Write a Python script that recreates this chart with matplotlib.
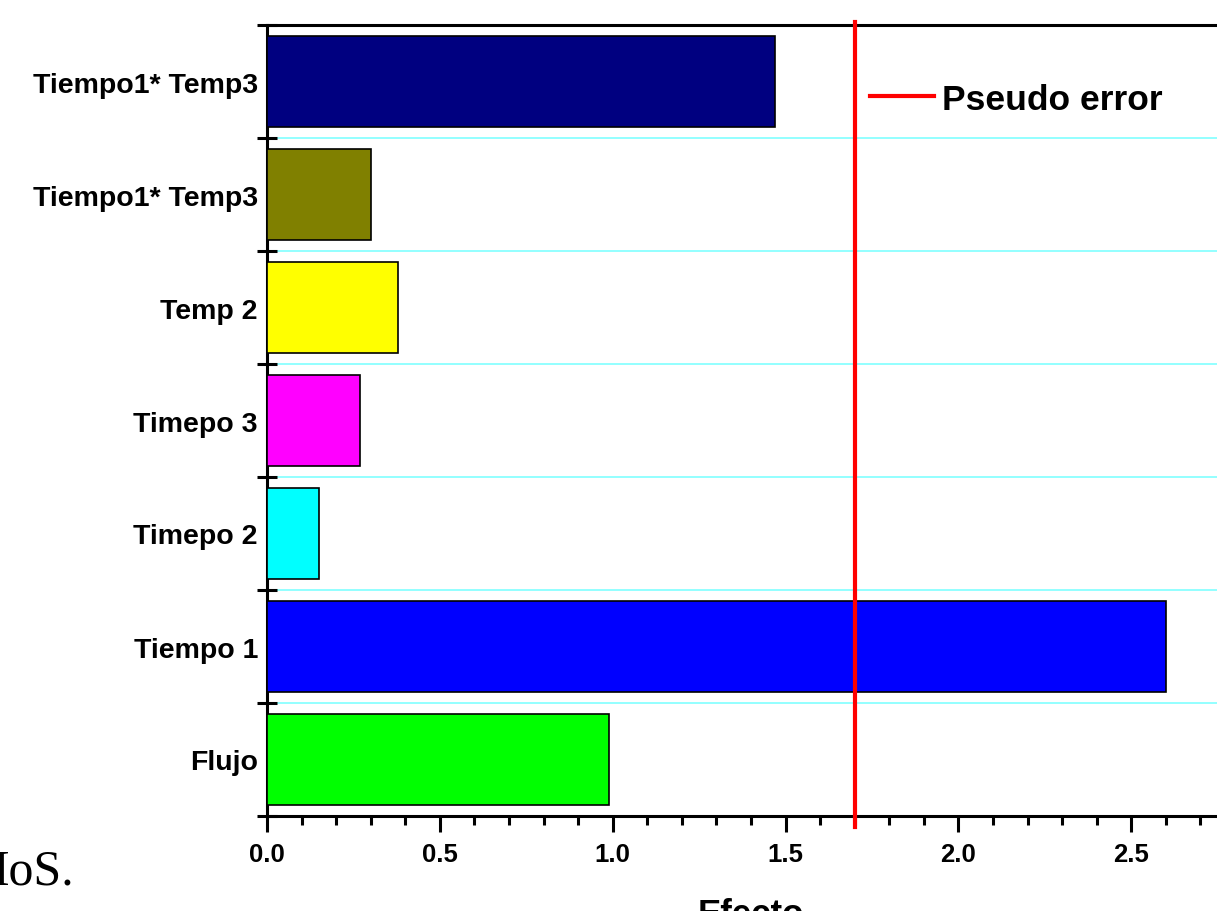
import numpy as np
from matplotlib import pyplot as plt
from matplotlib.ticker import MultipleLocator, FixedLocator, NullFormatter

# bottom to top
etiquetas = ["Flujo", "Tiempo 1", "Timepo 2", "Timepo 3", "Temp 2",
             "Tiempo1* Temp3", "Tiempo1* Temp3"]
efectos = [0.99, 2.60, 0.15, 0.27, 0.38, 0.30, 1.47]
colores = ["#00ff00", "#0000ff", "#00ffff", "#ff00ff", "#ffff00",
           "#808000", "#000080"]
pseudo_error = 1.7

plt.rcParams['font.family'] = ['Liberation Sans', 'DejaVu Sans']
plt.rcParams['font.weight'] = 'bold'

W, H = 1217, 912
fig = plt.figure(figsize=(W / 100, H / 100), dpi=100)
# axes runs a bit past the right edge of the picture, like the original
ax = fig.add_axes([267 / W, 1 - 817 / H, (1235 - 267) / W, (817 - 26) / H])

pos = np.arange(len(etiquetas))
ax.barh(pos, efectos, height=0.8, color=colores, edgecolor="black",
        linewidth=1.2, zorder=3)

ax.set_xlim(0, 2.8)
ax.set_ylim(-0.5, len(etiquetas) - 0.5)

# red pseudo error line
ax.axvline(pseudo_error, ymin=-0.014, ymax=1.004, color="#ff0000", lw=3,
           clip_on=False, zorder=4, label="Pseudo error")

# y ticks on the boundaries, labels in the middle
ax.yaxis.set_major_locator(FixedLocator(np.arange(-0.5, len(etiquetas), 1.0)))
ax.yaxis.set_major_formatter(NullFormatter())
ax.yaxis.set_minor_locator(FixedLocator(pos))
ax.set_yticklabels(etiquetas, minor=True)
ax.tick_params(axis="y", which="major", direction="inout", length=14,
               width=2.2)
ax.tick_params(axis="y", which="minor", length=0, pad=6.5, labelsize=20.5)

ax.xaxis.set_major_locator(MultipleLocator(0.5))
ax.xaxis.set_minor_locator(MultipleLocator(0.1))
ax.tick_params(axis="x", which="major", direction="out", length=11.5,
               width=2.2, labelsize=18.5, pad=7.5)
ax.tick_params(axis="x", which="minor", direction="out", length=6.5,
               width=2.2)

for s in ax.spines.values():
    s.set_linewidth(2.2)

ax.grid(axis="y", which="major", color="#80ffff", lw=1.2, zorder=0)

ax.set_xlabel("Efecto", fontsize=25, fontweight="bold")
ax.xaxis.set_label_coords(0.5, -0.1024)
ax.xaxis.label.set_va("top")

ax.legend(loc="center left", bbox_to_anchor=(870 / W, 1 - 100 / H),
          bbox_transform=fig.transFigure, frameon=False, borderpad=0,
          borderaxespad=0, handlelength=1.8, handletextpad=0.22,
          prop={"size": 25.5, "weight": "bold"})

# leftover text from the slide
fig.text(74 / W, 1 - 885 / H, "MoS.", ha="right", va="baseline",
         fontsize=36, family="Liberation Serif", fontweight="normal")

fig.savefig("out.png", dpi=100)
